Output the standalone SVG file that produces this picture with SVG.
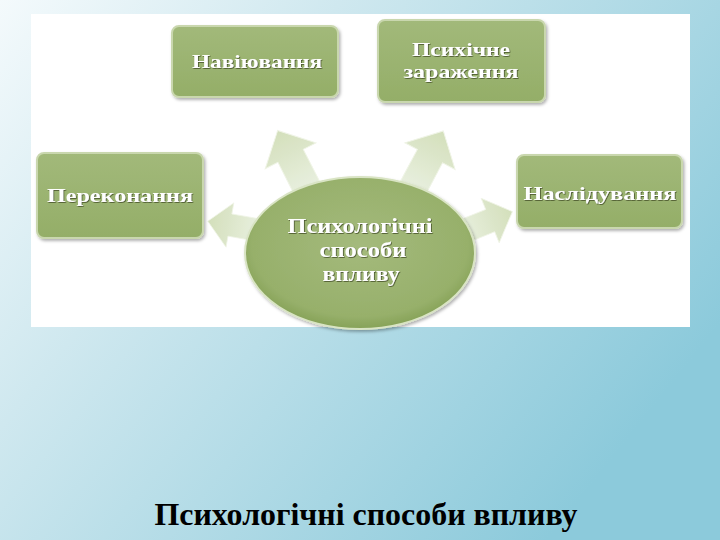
<svg xmlns="http://www.w3.org/2000/svg" width="720" height="540" viewBox="0 0 720 540">
<defs>
<linearGradient id="bg" x1="0" y1="0" x2="1" y2="0.6">
<stop offset="0" stop-color="#f4fafc"/>
<stop offset="0.35" stop-color="#cfe8ef"/>
<stop offset="1" stop-color="#8ccadb"/>
</linearGradient>
<linearGradient id="box" x1="0" y1="0" x2="0" y2="1">
<stop offset="0" stop-color="#a2b97a"/>
<stop offset="1" stop-color="#94ae68"/>
</linearGradient>
<radialGradient id="ell" cx="0.5" cy="0.45" r="0.55">
<stop offset="0" stop-color="#a4ba7c"/>
<stop offset="0.85" stop-color="#97b06b"/>
<stop offset="1" stop-color="#86a257"/>
</radialGradient>
<linearGradient id="arr" x1="0" y1="0" x2="1" y2="0">
<stop offset="0" stop-color="#e6eedb"/>
<stop offset="1" stop-color="#cfdcb4"/>
</linearGradient>
<filter id="sh" x="-10%" y="-10%" width="125%" height="130%">
<feDropShadow dx="1.5" dy="2" stdDeviation="1.5" flood-color="#000" flood-opacity="0.3"/>
</filter>
<filter id="ts" x="-5%" y="-20%" width="110%" height="140%">
<feDropShadow dx="0.8" dy="0.8" stdDeviation="0.6" flood-color="#3c4a22" flood-opacity="0.9"/>
</filter>
<path id="arrow" d="M0,-15 L38,-15 L38,-30 L68,0 L38,30 L38,15 L0,15 Z"/>
</defs>
<style>
.box{fill:url(#box);stroke:#c9d7ae;stroke-width:2;filter:url(#sh)}
.lbl{font-family:"Liberation Serif",serif;font-weight:bold;font-size:18px;fill:#ffffff;text-anchor:middle;filter:url(#ts)}
.big{font-size:20px}
.arrow{fill:url(#arr);stroke:#eef3e4;stroke-width:1;opacity:0.9}
.title{font-family:"Liberation Serif",serif;font-weight:bold;font-size:32px;fill:#000;text-anchor:middle}
</style>
<rect x="0" y="0" width="720" height="540" fill="url(#bg)"/>
<rect x="31" y="14" width="659" height="313" fill="#ffffff"/>
<g id="connectors">
<use href="#arrow" class="arrow" transform="translate(307,188) rotate(-117) scale(0.95,0.95)"/>
<use href="#arrow" class="arrow" transform="translate(413,188) rotate(-62) scale(0.95,0.95)"/>
<use href="#arrow" class="arrow" transform="translate(258,230) rotate(-170) scale(0.75,0.75)"/>
<use href="#arrow" class="arrow" transform="translate(462,232) rotate(-22) scale(0.8,0.8)"/>
</g>
<g id="node-center">
<ellipse cx="360" cy="253" rx="115" ry="76" fill="url(#ell)" stroke="#d9e4c4" stroke-width="2" filter="url(#sh)"/>
<text class="lbl big" x="360" y="233" textLength="145" lengthAdjust="spacingAndGlyphs">Психологічні</text>
<text class="lbl big" x="363" y="257" textLength="87" lengthAdjust="spacingAndGlyphs">способи</text>
<text class="lbl big" x="361" y="281" textLength="77" lengthAdjust="spacingAndGlyphs">впливу</text>
</g>
<g id="node-naviyuvannya">
<rect class="box" x="172" y="26" width="166" height="71" rx="7"/>
<text class="lbl" x="257" y="68" textLength="130" lengthAdjust="spacingAndGlyphs">Навіювання</text>
</g>
<g id="node-zarazhennya">
<rect class="box" x="378" y="20" width="167" height="82" rx="7"/>
<text class="lbl" x="461" y="56" textLength="98" lengthAdjust="spacingAndGlyphs">Психічне</text>
<text class="lbl" x="461" y="78" textLength="115" lengthAdjust="spacingAndGlyphs">зараження</text>
</g>
<g id="node-perekonannya">
<rect class="box" x="37" y="153" width="166" height="85" rx="7"/>
<text class="lbl" x="120" y="202" textLength="146" lengthAdjust="spacingAndGlyphs">Переконання</text>
</g>
<g id="node-nasliduvannya">
<rect class="box" x="517" y="155" width="165" height="73" rx="7"/>
<text class="lbl" x="600" y="200" textLength="153" lengthAdjust="spacingAndGlyphs">Наслідування</text>
</g>
<text class="title" x="366" y="525" textLength="423" lengthAdjust="spacingAndGlyphs">Психологічні способи впливу</text>
</svg>
